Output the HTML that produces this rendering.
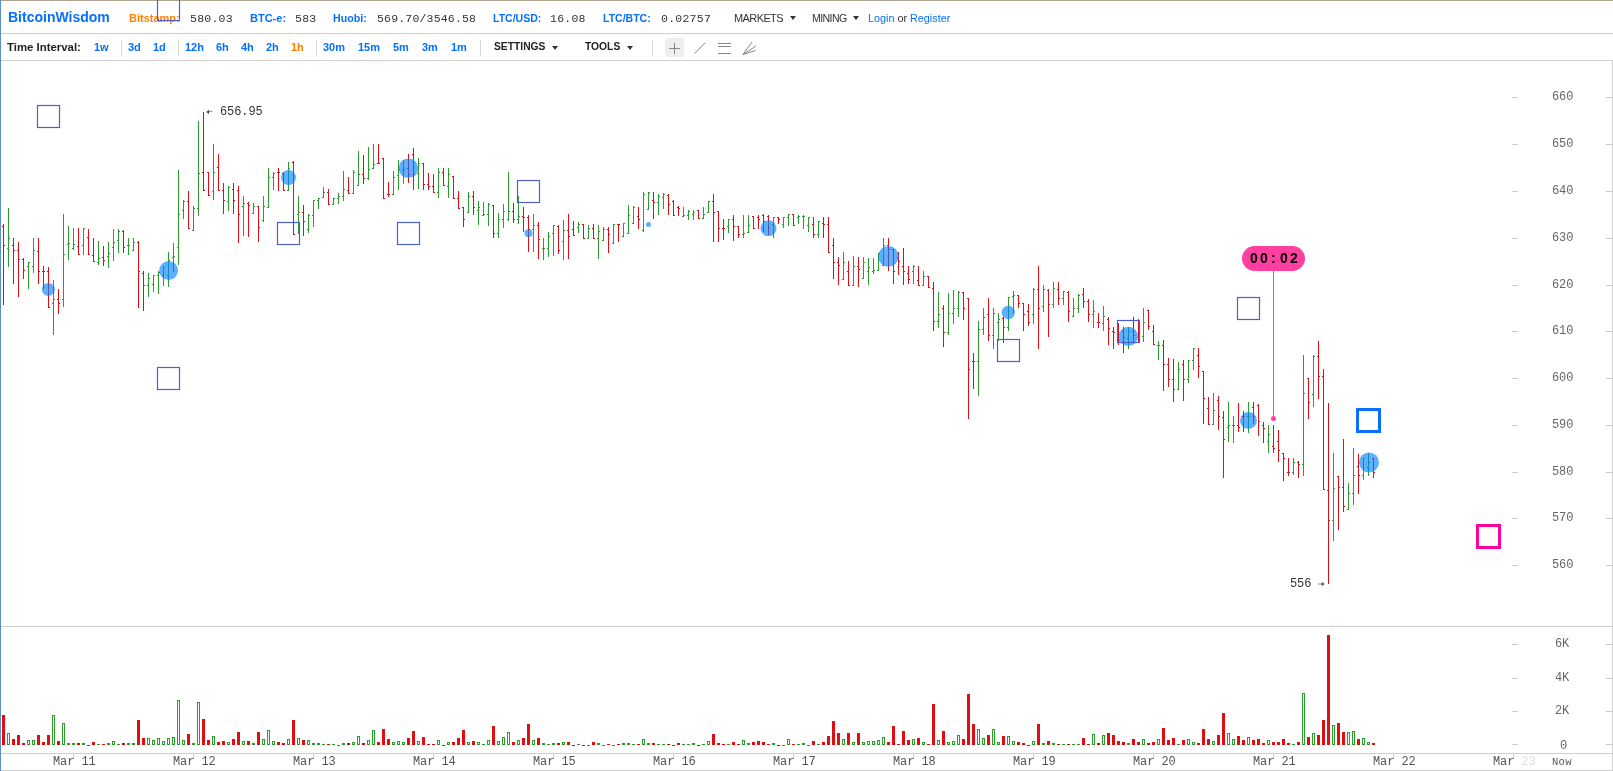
<!DOCTYPE html>
<html><head><meta charset="utf-8"><title>BitcoinWisdom</title>
<style>
html,body{margin:0;padding:0;background:#fff;}
body{width:1613px;height:771px;position:relative;overflow:hidden;font-family:"Liberation Sans",sans-serif;}
.t{position:absolute;white-space:nowrap;line-height:1;will-change:transform;}
.mono{font-family:"Liberation Mono",monospace;}
.hl{position:absolute;left:0;height:1px;background:#cfcfcf;}
svg{position:absolute;left:0;top:0;}
.tri{position:absolute;width:0;height:0;border-left:3.5px solid transparent;border-right:3.5px solid transparent;border-top:4px solid #333;}
.sep{position:absolute;width:1px;background:#d8d8d8;}
</style></head><body>

<div style="position:absolute;left:0;top:0;width:1613px;height:1px;background:#afa591"></div>
<div class="hl" style="top:33px;width:1613px"></div>
<div class="hl" style="top:60px;width:1613px"></div>
<div class="hl" style="top:626px;width:1612px"></div>
<div class="hl" style="top:753px;width:1612px"></div>
<div class="hl" style="top:770px;width:1613px"></div>
<div style="position:absolute;left:1612px;top:60px;width:1px;height:711px;background:#cfcfcf"></div>
<div style="position:absolute;left:0;top:0;width:1px;height:771px;background:#5a90c4"></div>
<div class="t" style="left:8px;top:10.15px;font-size:14px;color:#0570ff;font-weight:bold;">BitcoinWisdom</div>
<div class="t" style="left:129px;top:12.69px;font-size:11px;color:#ff8000;font-weight:bold;">Bitstamp:</div>
<div class="t mono" style="left:190px;top:13.19px;font-size:11.5px;color:#333;letter-spacing:-0.1px;letter-spacing:0.25px;">580.03</div>
<div class="t" style="left:249.5px;top:12.69px;font-size:11px;color:#0570ff;font-weight:bold;">BTC-e:</div>
<div class="t mono" style="left:295px;top:13.19px;font-size:11.5px;color:#333;letter-spacing:-0.1px;letter-spacing:0.25px;">583</div>
<div class="t" style="left:333.2px;top:12.69px;font-size:10.7px;color:#0570ff;font-weight:bold;">Huobi:</div>
<div class="t mono" style="left:377px;top:13.19px;font-size:11.5px;color:#333;letter-spacing:-0.1px;letter-spacing:0.18px;">569.70/3546.58</div>
<div class="t" style="left:492.5px;top:12.69px;font-size:10.5px;color:#0570ff;font-weight:bold;">LTC/USD:</div>
<div class="t mono" style="left:549.5px;top:13.19px;font-size:11.5px;color:#333;letter-spacing:-0.1px;letter-spacing:0.25px;">16.08</div>
<div class="t" style="left:602.5px;top:12.69px;font-size:10.5px;color:#0570ff;font-weight:bold;">LTC/BTC:</div>
<div class="t mono" style="left:661px;top:13.19px;font-size:11.5px;color:#333;letter-spacing:-0.1px;letter-spacing:0.25px;">0.02757</div>
<div class="t" style="left:733.8px;top:12.69px;font-size:11px;color:#333;letter-spacing:-0.6px;">MARKETS</div>
<div class="tri" style="left:789.7px;top:16px"></div>
<div class="t" style="left:811.8px;top:12.69px;font-size:10.6px;color:#333;letter-spacing:-0.6px;">MINING</div>
<div class="tri" style="left:852.5px;top:16px"></div>
<div class="t" style="left:867.8px;top:12.69px;font-size:10.8px;color:#333;"><span style="color:#0570ff">Login</span> or <span style="color:#0570ff">Register</span></div>
<div class="t" style="left:6.7px;top:41.69px;font-size:11.4px;color:#222;font-weight:bold;">Time Interval:</div>
<div class="t" style="left:93.5px;top:41.69px;font-size:11px;color:#0570ff;font-weight:bold;">1w</div>
<div class="t" style="left:127.5px;top:41.69px;font-size:11px;color:#0570ff;font-weight:bold;">3d</div>
<div class="t" style="left:152.5px;top:41.69px;font-size:11px;color:#0570ff;font-weight:bold;">1d</div>
<div class="t" style="left:184.5px;top:41.69px;font-size:11px;color:#0570ff;font-weight:bold;">12h</div>
<div class="t" style="left:215.5px;top:41.69px;font-size:11px;color:#0570ff;font-weight:bold;">6h</div>
<div class="t" style="left:240.5px;top:41.69px;font-size:11px;color:#0570ff;font-weight:bold;">4h</div>
<div class="t" style="left:265.5px;top:41.69px;font-size:11px;color:#0570ff;font-weight:bold;">2h</div>
<div class="t" style="left:290.5px;top:41.69px;font-size:11px;color:#ff8000;font-weight:bold;">1h</div>
<div class="t" style="left:322.5px;top:41.69px;font-size:11px;color:#0570ff;font-weight:bold;">30m</div>
<div class="t" style="left:357.5px;top:41.69px;font-size:11px;color:#0570ff;font-weight:bold;">15m</div>
<div class="t" style="left:392.5px;top:41.69px;font-size:11px;color:#0570ff;font-weight:bold;">5m</div>
<div class="t" style="left:421.5px;top:41.69px;font-size:11px;color:#0570ff;font-weight:bold;">3m</div>
<div class="t" style="left:450.5px;top:41.69px;font-size:11px;color:#0570ff;font-weight:bold;">1m</div>
<div class="sep" style="left:121px;top:40px;height:16px"></div>
<div class="sep" style="left:178px;top:40px;height:16px"></div>
<div class="sep" style="left:316px;top:40px;height:16px"></div>
<div class="sep" style="left:480px;top:40px;height:16px"></div>
<div class="sep" style="left:652px;top:40px;height:16px"></div>
<div class="t" style="left:493.5px;top:42.28px;font-size:10.3px;color:#222;font-weight:bold;">SETTINGS</div>
<div class="tri" style="left:552px;top:46px"></div>
<div class="t" style="left:584.5px;top:42.28px;font-size:10.3px;color:#222;font-weight:bold;">TOOLS</div>
<div class="tri" style="left:627px;top:46px"></div>
<div style="position:absolute;left:665px;top:38px;width:19px;height:19px;background:#eee;border-radius:3px"></div>
<svg width="1613" height="771" viewBox="0 0 1613 771">
<g stroke="#888" stroke-width="1" fill="none">
<path d="M669 48.5H680M674.5 43V54"/>
<path d="M694.5 53.5L705 43" />
<path d="M718 43.5H731M718 46.5H731M718 53.5H731"/>
<path d="M743 54.5L752 42M743 54.5L756 46M743 54.5L755.5 50.5"/>
</g>
<g shape-rendering="crispEdges">
<path fill="#e00d12" d="M3 224h1v81h-1z M2 226h1v1h-1z M4 245h1v1h-1z M13 238h1v46h-1z M12 245h1v1h-1z M14 250h1v1h-1z M18 242h1v55h-1z M17 250h1v1h-1z M19 259h1v1h-1z M23 258h1v21h-1z M22 259h1v1h-1z M24 270h1v1h-1z M38 238h1v46h-1z M37 251h1v1h-1z M39 271h1v1h-1z M43 266h1v23h-1z M42 271h1v1h-1z M44 271h1v1h-1z M48 267h1v41h-1z M47 271h1v1h-1z M49 307h1v1h-1z M58 289h1v25h-1z M57 299h1v1h-1z M59 303h1v1h-1z M78 228h1v27h-1z M77 246h1v1h-1z M79 254h1v1h-1z M88 229h1v26h-1z M87 237h1v1h-1z M89 254h1v1h-1z M93 238h1v24h-1z M92 255h1v1h-1z M94 261h1v1h-1z M103 246h1v20h-1z M102 257h1v1h-1z M104 260h1v1h-1z M123 230h1v23h-1z M122 231h1v1h-1z M124 247h1v1h-1z M138 241h1v67h-1z M137 242h1v1h-1z M139 271h1v1h-1z M143 271h1v40h-1z M142 273h1v1h-1z M144 285h1v1h-1z M188 191h1v38h-1z M187 201h1v1h-1z M189 228h1v1h-1z M203 112h1v79h-1z M202 172h1v1h-1z M204 190h1v1h-1z M208 172h1v24h-1z M207 172h1v1h-1z M209 195h1v1h-1z M218 154h1v37h-1z M217 167h1v1h-1z M219 190h1v1h-1z M223 183h1v31h-1z M222 190h1v1h-1z M224 200h1v1h-1z M233 183h1v31h-1z M232 189h1v1h-1z M234 200h1v1h-1z M238 186h1v57h-1z M237 190h1v1h-1z M239 214h1v1h-1z M248 202h1v35h-1z M247 203h1v1h-1z M249 205h1v1h-1z M258 206h1v36h-1z M257 206h1v1h-1z M259 227h1v1h-1z M278 168h1v23h-1z M277 172h1v1h-1z M279 172h1v1h-1z M283 172h1v19h-1z M282 173h1v1h-1z M284 190h1v1h-1z M293 161h1v74h-1z M292 162h1v1h-1z M294 234h1v1h-1z M303 205h1v31h-1z M302 212h1v1h-1z M304 221h1v1h-1z M328 189h1v16h-1z M327 192h1v1h-1z M329 204h1v1h-1z M348 177h1v17h-1z M347 190h1v1h-1z M349 193h1v1h-1z M363 155h1v29h-1z M362 174h1v1h-1z M364 178h1v1h-1z M378 144h1v20h-1z M377 163h1v1h-1z M379 163h1v1h-1z M383 158h1v41h-1z M382 158h1v1h-1z M384 198h1v1h-1z M388 182h1v15h-1z M387 194h1v1h-1z M389 194h1v1h-1z M408 154h1v29h-1z M407 168h1v1h-1z M409 174h1v1h-1z M413 148h1v42h-1z M412 154h1v1h-1z M414 174h1v1h-1z M423 163h1v27h-1z M422 163h1v1h-1z M424 184h1v1h-1z M428 173h1v17h-1z M427 184h1v1h-1z M429 186h1v1h-1z M433 174h1v19h-1z M432 186h1v1h-1z M434 192h1v1h-1z M443 168h1v18h-1z M442 172h1v1h-1z M444 185h1v1h-1z M453 176h1v23h-1z M452 176h1v1h-1z M454 198h1v1h-1z M458 191h1v18h-1z M457 198h1v1h-1z M459 208h1v1h-1z M463 207h1v20h-1z M462 207h1v1h-1z M464 219h1v1h-1z M473 191h1v24h-1z M472 196h1v1h-1z M474 207h1v1h-1z M493 205h1v33h-1z M492 205h1v1h-1z M494 233h1v1h-1z M513 203h1v20h-1z M512 211h1v1h-1z M514 219h1v1h-1z M523 207h1v25h-1z M522 216h1v1h-1z M524 217h1v1h-1z M528 215h1v37h-1z M527 217h1v1h-1z M529 229h1v1h-1z M538 222h1v37h-1z M537 225h1v1h-1z M539 239h1v1h-1z M558 225h1v29h-1z M557 226h1v1h-1z M559 250h1v1h-1z M568 214h1v45h-1z M567 230h1v1h-1z M569 236h1v1h-1z M573 221h1v15h-1z M572 229h1v1h-1z M574 235h1v1h-1z M583 224h1v15h-1z M582 224h1v1h-1z M584 238h1v1h-1z M593 224h1v15h-1z M592 228h1v1h-1z M594 238h1v1h-1z M608 227h1v26h-1z M607 229h1v1h-1z M609 234h1v1h-1z M618 224h1v18h-1z M617 224h1v1h-1z M619 224h1v1h-1z M638 207h1v22h-1z M637 216h1v1h-1z M639 219h1v1h-1z M653 192h1v27h-1z M652 200h1v1h-1z M654 202h1v1h-1z M668 194h1v21h-1z M667 195h1v1h-1z M669 204h1v1h-1z M673 200h1v16h-1z M672 201h1v1h-1z M674 215h1v1h-1z M678 206h1v10h-1z M677 207h1v1h-1z M679 208h1v1h-1z M698 210h1v9h-1z M697 210h1v1h-1z M699 218h1v1h-1z M713 194h1v48h-1z M712 201h1v1h-1z M714 212h1v1h-1z M718 211h1v31h-1z M717 211h1v1h-1z M719 228h1v1h-1z M723 219h1v21h-1z M722 228h1v1h-1z M724 228h1v1h-1z M733 215h1v26h-1z M732 219h1v1h-1z M734 226h1v1h-1z M738 226h1v12h-1z M737 226h1v1h-1z M739 234h1v1h-1z M753 216h1v13h-1z M752 216h1v1h-1z M754 228h1v1h-1z M758 215h1v14h-1z M757 217h1v1h-1z M759 219h1v1h-1z M763 214h1v18h-1z M762 215h1v1h-1z M764 221h1v1h-1z M768 215h1v20h-1z M767 216h1v1h-1z M769 227h1v1h-1z M778 217h1v7h-1z M777 217h1v1h-1z M779 219h1v1h-1z M793 214h1v12h-1z M792 214h1v1h-1z M794 225h1v1h-1z M813 217h1v21h-1z M812 224h1v1h-1z M814 234h1v1h-1z M823 217h1v21h-1z M822 223h1v1h-1z M824 224h1v1h-1z M828 217h1v36h-1z M827 224h1v1h-1z M829 252h1v1h-1z M833 238h1v41h-1z M832 245h1v1h-1z M834 262h1v1h-1z M838 257h1v28h-1z M837 262h1v1h-1z M839 265h1v1h-1z M848 261h1v25h-1z M847 271h1v1h-1z M849 285h1v1h-1z M858 257h1v30h-1z M857 266h1v1h-1z M859 269h1v1h-1z M888 238h1v33h-1z M887 245h1v1h-1z M889 249h1v1h-1z M893 249h1v35h-1z M892 249h1v1h-1z M894 271h1v1h-1z M898 252h1v23h-1z M897 257h1v1h-1z M899 261h1v1h-1z M903 248h1v37h-1z M902 266h1v1h-1z M904 271h1v1h-1z M908 266h1v18h-1z M907 273h1v1h-1z M909 279h1v1h-1z M918 266h1v20h-1z M917 280h1v1h-1z M919 285h1v1h-1z M928 276h1v12h-1z M927 276h1v1h-1z M929 287h1v1h-1z M933 282h1v49h-1z M932 288h1v1h-1z M934 321h1v1h-1z M943 305h1v42h-1z M942 308h1v1h-1z M944 332h1v1h-1z M963 292h1v28h-1z M962 292h1v1h-1z M964 308h1v1h-1z M968 298h1v121h-1z M967 298h1v1h-1z M969 369h1v1h-1z M973 353h1v36h-1z M972 361h1v1h-1z M974 361h1v1h-1z M988 298h1v43h-1z M987 314h1v1h-1z M989 335h1v1h-1z M1003 317h1v26h-1z M1002 318h1v1h-1z M1004 327h1v1h-1z M1018 295h1v13h-1z M1017 295h1v1h-1z M1019 303h1v1h-1z M1023 303h1v28h-1z M1022 303h1v1h-1z M1024 314h1v1h-1z M1028 304h1v22h-1z M1027 311h1v1h-1z M1029 322h1v1h-1z M1038 266h1v83h-1z M1037 289h1v1h-1z M1039 308h1v1h-1z M1048 289h1v48h-1z M1047 290h1v1h-1z M1049 304h1v1h-1z M1058 282h1v23h-1z M1057 289h1v1h-1z M1059 298h1v1h-1z M1068 291h1v31h-1z M1067 292h1v1h-1z M1069 311h1v1h-1z M1083 288h1v20h-1z M1082 294h1v1h-1z M1084 301h1v1h-1z M1088 299h1v23h-1z M1087 301h1v1h-1z M1089 314h1v1h-1z M1098 313h1v15h-1z M1097 322h1v1h-1z M1099 322h1v1h-1z M1108 317h1v28h-1z M1107 319h1v1h-1z M1109 328h1v1h-1z M1113 327h1v22h-1z M1112 331h1v1h-1z M1114 332h1v1h-1z M1118 323h1v22h-1z M1117 323h1v1h-1z M1119 340h1v1h-1z M1123 327h1v26h-1z M1122 331h1v1h-1z M1124 337h1v1h-1z M1133 317h1v25h-1z M1132 331h1v1h-1z M1134 335h1v1h-1z M1138 319h1v23h-1z M1137 320h1v1h-1z M1139 327h1v1h-1z M1148 310h1v20h-1z M1147 310h1v1h-1z M1149 326h1v1h-1z M1153 325h1v20h-1z M1152 331h1v1h-1z M1154 344h1v1h-1z M1163 340h1v51h-1z M1162 345h1v1h-1z M1164 364h1v1h-1z M1168 358h1v29h-1z M1167 364h1v1h-1z M1169 379h1v1h-1z M1173 359h1v43h-1z M1172 379h1v1h-1z M1174 389h1v1h-1z M1183 360h1v41h-1z M1182 364h1v1h-1z M1184 379h1v1h-1z M1198 348h1v30h-1z M1197 355h1v1h-1z M1199 366h1v1h-1z M1203 371h1v53h-1z M1202 371h1v1h-1z M1204 398h1v1h-1z M1208 397h1v28h-1z M1207 408h1v1h-1z M1209 424h1v1h-1z M1218 396h1v34h-1z M1217 400h1v1h-1z M1219 416h1v1h-1z M1223 411h1v67h-1z M1222 417h1v1h-1z M1224 439h1v1h-1z M1238 403h1v29h-1z M1237 425h1v1h-1z M1239 427h1v1h-1z M1243 411h1v21h-1z M1242 416h1v1h-1z M1244 416h1v1h-1z M1253 402h1v22h-1z M1252 407h1v1h-1z M1254 416h1v1h-1z M1258 404h1v32h-1z M1257 405h1v1h-1z M1259 421h1v1h-1z M1263 422h1v21h-1z M1262 425h1v1h-1z M1264 428h1v1h-1z M1273 425h1v28h-1z M1272 446h1v1h-1z M1274 448h1v1h-1z M1278 430h1v32h-1z M1277 441h1v1h-1z M1279 450h1v1h-1z M1283 453h1v28h-1z M1282 453h1v1h-1z M1284 458h1v1h-1z M1288 458h1v18h-1z M1287 472h1v1h-1z M1289 472h1v1h-1z M1298 461h1v17h-1z M1297 462h1v1h-1z M1299 464h1v1h-1z M1308 378h1v41h-1z M1307 378h1v1h-1z M1309 402h1v1h-1z M1318 341h1v58h-1z M1317 356h1v1h-1z M1319 376h1v1h-1z M1323 369h1v121h-1z M1322 376h1v1h-1z M1324 489h1v1h-1z M1328 403h1v181h-1z M1327 490h1v1h-1z M1329 520h1v1h-1z M1338 476h1v54h-1z M1337 476h1v1h-1z M1339 487h1v1h-1z M1343 439h1v73h-1z M1342 487h1v1h-1z M1344 506h1v1h-1z M1358 454h1v40h-1z M1357 466h1v1h-1z M1359 475h1v1h-1z M1373 458h1v20h-1z M1372 458h1v1h-1z M1374 472h1v1h-1z"/>
<path fill="#2a9d2a" d="M8 208h1v59h-1z M7 248h1v1h-1z M9 238h1v1h-1z M28 262h1v27h-1z M27 266h1v1h-1z M29 262h1v1h-1z M33 238h1v35h-1z M32 266h1v1h-1z M34 250h1v1h-1z M53 280h1v55h-1z M52 303h1v1h-1z M54 299h1v1h-1z M63 214h1v93h-1z M62 299h1v1h-1z M64 254h1v1h-1z M68 226h1v34h-1z M67 244h1v1h-1z M69 243h1v1h-1z M73 228h1v22h-1z M72 248h1v1h-1z M74 244h1v1h-1z M83 228h1v27h-1z M82 245h1v1h-1z M84 228h1v1h-1z M98 241h1v24h-1z M97 262h1v1h-1z M99 258h1v1h-1z M108 242h1v26h-1z M107 256h1v1h-1z M109 253h1v1h-1z M113 229h1v32h-1z M112 247h1v1h-1z M114 242h1v1h-1z M118 229h1v24h-1z M117 240h1v1h-1z M119 231h1v1h-1z M128 238h1v17h-1z M127 245h1v1h-1z M129 245h1v1h-1z M133 238h1v13h-1z M132 250h1v1h-1z M134 242h1v1h-1z M148 273h1v24h-1z M147 285h1v1h-1z M149 278h1v1h-1z M153 275h1v17h-1z M152 284h1v1h-1z M154 275h1v1h-1z M158 271h1v23h-1z M157 275h1v1h-1z M159 272h1v1h-1z M163 266h1v20h-1z M162 275h1v1h-1z M164 267h1v1h-1z M168 252h1v35h-1z M167 275h1v1h-1z M169 260h1v1h-1z M173 243h1v29h-1z M172 257h1v1h-1z M174 256h1v1h-1z M178 170h1v95h-1z M177 247h1v1h-1z M179 214h1v1h-1z M183 200h1v19h-1z M182 210h1v1h-1z M184 201h1v1h-1z M193 206h1v25h-1z M192 230h1v1h-1z M194 208h1v1h-1z M198 121h1v95h-1z M197 208h1v1h-1z M199 173h1v1h-1z M213 144h1v56h-1z M212 191h1v1h-1z M214 172h1v1h-1z M228 186h1v25h-1z M227 201h1v1h-1z M229 187h1v1h-1z M243 196h1v40h-1z M242 206h1v1h-1z M244 203h1v1h-1z M253 203h1v11h-1z M252 213h1v1h-1z M254 206h1v1h-1z M263 196h1v26h-1z M262 220h1v1h-1z M264 206h1v1h-1z M268 168h1v40h-1z M267 207h1v1h-1z M269 177h1v1h-1z M273 172h1v18h-1z M272 177h1v1h-1z M274 173h1v1h-1z M288 162h1v29h-1z M287 190h1v1h-1z M289 168h1v1h-1z M298 196h1v38h-1z M297 214h1v1h-1z M299 212h1v1h-1z M308 214h1v19h-1z M307 229h1v1h-1z M309 215h1v1h-1z M313 200h1v27h-1z M312 215h1v1h-1z M314 200h1v1h-1z M318 198h1v11h-1z M317 200h1v1h-1z M319 198h1v1h-1z M323 187h1v11h-1z M322 197h1v1h-1z M324 192h1v1h-1z M333 198h1v7h-1z M332 204h1v1h-1z M334 198h1v1h-1z M338 193h1v11h-1z M337 198h1v1h-1z M339 196h1v1h-1z M343 171h1v30h-1z M342 196h1v1h-1z M344 189h1v1h-1z M353 170h1v24h-1z M352 193h1v1h-1z M354 172h1v1h-1z M358 151h1v35h-1z M357 185h1v1h-1z M359 174h1v1h-1z M368 147h1v33h-1z M367 178h1v1h-1z M369 169h1v1h-1z M373 144h1v25h-1z M372 168h1v1h-1z M374 164h1v1h-1z M393 171h1v24h-1z M392 194h1v1h-1z M394 177h1v1h-1z M398 160h1v30h-1z M397 175h1v1h-1z M399 169h1v1h-1z M403 160h1v24h-1z M402 169h1v1h-1z M404 169h1v1h-1z M418 158h1v31h-1z M417 173h1v1h-1z M419 163h1v1h-1z M438 168h1v30h-1z M437 192h1v1h-1z M439 172h1v1h-1z M448 168h1v30h-1z M447 186h1v1h-1z M449 174h1v1h-1z M468 192h1v21h-1z M467 212h1v1h-1z M469 196h1v1h-1z M478 201h1v24h-1z M477 210h1v1h-1z M479 207h1v1h-1z M483 202h1v14h-1z M482 215h1v1h-1z M484 214h1v1h-1z M488 203h1v23h-1z M487 214h1v1h-1z M489 204h1v1h-1z M498 213h1v25h-1z M497 233h1v1h-1z M499 219h1v1h-1z M503 204h1v24h-1z M502 219h1v1h-1z M504 211h1v1h-1z M508 172h1v49h-1z M507 219h1v1h-1z M509 211h1v1h-1z M518 196h1v28h-1z M517 219h1v1h-1z M519 216h1v1h-1z M533 214h1v38h-1z M532 229h1v1h-1z M534 225h1v1h-1z M543 238h1v22h-1z M542 248h1v1h-1z M544 248h1v1h-1z M548 232h1v25h-1z M547 248h1v1h-1z M549 236h1v1h-1z M553 225h1v31h-1z M552 233h1v1h-1z M554 225h1v1h-1z M563 220h1v40h-1z M562 241h1v1h-1z M564 230h1v1h-1z M578 222h1v11h-1z M577 227h1v1h-1z M579 224h1v1h-1z M588 225h1v14h-1z M587 238h1v1h-1z M589 228h1v1h-1z M598 225h1v34h-1z M597 238h1v1h-1z M599 231h1v1h-1z M603 227h1v14h-1z M602 240h1v1h-1z M604 229h1v1h-1z M613 224h1v20h-1z M612 243h1v1h-1z M614 224h1v1h-1z M623 223h1v14h-1z M622 236h1v1h-1z M624 223h1v1h-1z M628 205h1v29h-1z M627 233h1v1h-1z M629 215h1v1h-1z M633 206h1v18h-1z M632 223h1v1h-1z M634 207h1v1h-1z M643 192h1v40h-1z M642 230h1v1h-1z M644 194h1v1h-1z M648 192h1v18h-1z M647 209h1v1h-1z M649 192h1v1h-1z M658 194h1v21h-1z M657 202h1v1h-1z M659 196h1v1h-1z M663 193h1v16h-1z M662 197h1v1h-1z M664 194h1v1h-1z M683 207h1v10h-1z M682 216h1v1h-1z M684 215h1v1h-1z M688 210h1v10h-1z M687 215h1v1h-1z M689 211h1v1h-1z M693 210h1v10h-1z M692 214h1v1h-1z M694 212h1v1h-1z M703 207h1v12h-1z M702 218h1v1h-1z M704 214h1v1h-1z M708 201h1v12h-1z M707 212h1v1h-1z M709 201h1v1h-1z M728 219h1v14h-1z M727 226h1v1h-1z M729 219h1v1h-1z M743 215h1v23h-1z M742 234h1v1h-1z M744 233h1v1h-1z M748 215h1v18h-1z M747 232h1v1h-1z M749 225h1v1h-1z M773 217h1v21h-1z M772 224h1v1h-1z M774 217h1v1h-1z M783 217h1v11h-1z M782 224h1v1h-1z M784 217h1v1h-1z M788 214h1v12h-1z M787 217h1v1h-1z M789 214h1v1h-1z M798 215h1v9h-1z M797 217h1v1h-1z M799 216h1v1h-1z M803 215h1v14h-1z M802 216h1v1h-1z M804 216h1v1h-1z M808 217h1v15h-1z M807 225h1v1h-1z M809 217h1v1h-1z M818 221h1v17h-1z M817 234h1v1h-1z M819 221h1v1h-1z M843 252h1v28h-1z M842 279h1v1h-1z M844 262h1v1h-1z M853 256h1v30h-1z M852 285h1v1h-1z M854 266h1v1h-1z M863 257h1v22h-1z M862 278h1v1h-1z M864 262h1v1h-1z M868 258h1v27h-1z M867 271h1v1h-1z M869 267h1v1h-1z M873 258h1v16h-1z M872 271h1v1h-1z M874 270h1v1h-1z M878 253h1v18h-1z M877 270h1v1h-1z M879 253h1v1h-1z M883 238h1v28h-1z M882 265h1v1h-1z M884 245h1v1h-1z M913 265h1v19h-1z M912 271h1v1h-1z M914 266h1v1h-1z M923 271h1v15h-1z M922 285h1v1h-1z M924 276h1v1h-1z M938 292h1v36h-1z M937 321h1v1h-1z M939 314h1v1h-1z M948 293h1v42h-1z M947 332h1v1h-1z M949 313h1v1h-1z M953 290h1v34h-1z M952 313h1v1h-1z M954 308h1v1h-1z M958 291h1v26h-1z M957 308h1v1h-1z M959 292h1v1h-1z M978 321h1v75h-1z M977 361h1v1h-1z M979 329h1v1h-1z M983 308h1v27h-1z M982 329h1v1h-1z M984 317h1v1h-1z M993 308h1v41h-1z M992 335h1v1h-1z M994 313h1v1h-1z M998 313h1v28h-1z M997 322h1v1h-1z M999 319h1v1h-1z M1008 297h1v34h-1z M1007 327h1v1h-1z M1009 297h1v1h-1z M1013 291h1v22h-1z M1012 296h1v1h-1z M1014 295h1v1h-1z M1033 288h1v36h-1z M1032 314h1v1h-1z M1034 289h1v1h-1z M1043 285h1v27h-1z M1042 306h1v1h-1z M1044 289h1v1h-1z M1053 282h1v26h-1z M1052 304h1v1h-1z M1054 288h1v1h-1z M1063 291h1v14h-1z M1062 298h1v1h-1z M1064 291h1v1h-1z M1073 298h1v19h-1z M1072 316h1v1h-1z M1074 308h1v1h-1z M1078 294h1v19h-1z M1077 308h1v1h-1z M1079 295h1v1h-1z M1093 300h1v28h-1z M1092 314h1v1h-1z M1094 311h1v1h-1z M1103 306h1v25h-1z M1102 323h1v1h-1z M1104 316h1v1h-1z M1128 327h1v22h-1z M1127 338h1v1h-1z M1129 331h1v1h-1z M1143 308h1v34h-1z M1142 336h1v1h-1z M1144 322h1v1h-1z M1158 341h1v19h-1z M1157 345h1v1h-1z M1159 345h1v1h-1z M1178 362h1v28h-1z M1177 389h1v1h-1z M1179 369h1v1h-1z M1188 360h1v23h-1z M1187 379h1v1h-1z M1189 360h1v1h-1z M1193 348h1v22h-1z M1192 360h1v1h-1z M1194 348h1v1h-1z M1213 393h1v32h-1z M1212 424h1v1h-1z M1214 410h1v1h-1z M1228 402h1v40h-1z M1227 427h1v1h-1z M1229 425h1v1h-1z M1233 416h1v27h-1z M1232 425h1v1h-1z M1234 425h1v1h-1z M1248 402h1v31h-1z M1247 416h1v1h-1z M1249 416h1v1h-1z M1268 425h1v28h-1z M1267 441h1v1h-1z M1269 434h1v1h-1z M1293 458h1v17h-1z M1292 472h1v1h-1z M1294 462h1v1h-1z M1303 355h1v121h-1z M1302 464h1v1h-1z M1304 393h1v1h-1z M1313 355h1v52h-1z M1312 394h1v1h-1z M1314 356h1v1h-1z M1333 453h1v88h-1z M1332 520h1v1h-1z M1334 488h1v1h-1z M1348 483h1v27h-1z M1347 509h1v1h-1z M1349 493h1v1h-1z M1353 448h1v57h-1z M1352 493h1v1h-1z M1354 475h1v1h-1z M1363 458h1v22h-1z M1362 475h1v1h-1z M1364 458h1v1h-1z M1368 453h1v23h-1z M1367 467h1v1h-1z M1369 462h1v1h-1z"/>
<path fill="#e00d12" d="M2 715h3v30h-3z M12 739h3v6h-3z M17 735h3v10h-3z M22 743h3v2h-3z M37 735h3v10h-3z M42 742h3v3h-3z M47 735h3v10h-3z M57 741h3v4h-3z M77 743h3v2h-3z M87 745h3v1h-3z M92 742h3v3h-3z M102 744h3v1h-3z M122 743h3v2h-3z M137 720h3v25h-3z M142 738h3v7h-3z M187 734h3v11h-3z M202 719h3v26h-3z M207 740h3v5h-3z M217 742h3v3h-3z M222 741h3v4h-3z M232 739h3v6h-3z M237 732h3v13h-3z M247 741h3v4h-3z M257 732h3v13h-3z M277 742h3v3h-3z M282 743h3v2h-3z M292 720h3v25h-3z M302 740h3v5h-3z M327 744h3v1h-3z M347 743h3v2h-3z M362 743h3v2h-3z M377 742h3v3h-3z M382 729h3v16h-3z M387 739h3v6h-3z M407 738h3v7h-3z M412 731h3v14h-3z M422 737h3v8h-3z M427 744h3v1h-3z M432 744h3v1h-3z M442 745h3v1h-3z M452 742h3v3h-3z M457 738h3v7h-3z M462 730h3v15h-3z M472 741h3v4h-3z M492 726h3v19h-3z M512 742h3v3h-3z M522 738h3v7h-3z M527 724h3v21h-3z M537 738h3v7h-3z M557 743h3v2h-3z M567 742h3v3h-3z M572 745h3v1h-3z M582 745h3v1h-3z M592 742h3v3h-3z M607 744h3v1h-3z M617 744h3v1h-3z M637 744h3v1h-3z M652 743h3v2h-3z M667 744h3v1h-3z M672 745h3v1h-3z M677 743h3v2h-3z M697 745h3v1h-3z M712 734h3v11h-3z M717 743h3v2h-3z M722 744h3v1h-3z M732 742h3v3h-3z M737 744h3v1h-3z M752 742h3v3h-3z M757 741h3v4h-3z M762 742h3v3h-3z M767 744h3v1h-3z M777 745h3v1h-3z M792 744h3v1h-3z M812 741h3v4h-3z M822 742h3v3h-3z M827 736h3v9h-3z M832 721h3v24h-3z M837 733h3v12h-3z M847 733h3v12h-3z M857 733h3v12h-3z M887 742h3v3h-3z M892 726h3v19h-3z M897 744h3v1h-3z M902 731h3v14h-3z M907 740h3v5h-3z M917 738h3v7h-3z M927 744h3v1h-3z M932 704h3v41h-3z M942 731h3v14h-3z M962 739h3v6h-3z M967 694h3v51h-3z M972 724h3v21h-3z M987 735h3v10h-3z M1002 736h3v9h-3z M1017 742h3v3h-3z M1022 743h3v2h-3z M1027 745h3v1h-3z M1037 724h3v21h-3z M1047 741h3v4h-3z M1057 744h3v1h-3z M1067 744h3v1h-3z M1082 738h3v7h-3z M1087 744h3v1h-3z M1097 743h3v2h-3z M1107 733h3v12h-3z M1112 735h3v10h-3z M1117 741h3v4h-3z M1122 742h3v3h-3z M1132 739h3v6h-3z M1137 742h3v3h-3z M1147 743h3v2h-3z M1152 742h3v3h-3z M1162 728h3v17h-3z M1167 740h3v5h-3z M1172 738h3v7h-3z M1182 740h3v5h-3z M1197 743h3v2h-3z M1202 729h3v16h-3z M1207 739h3v6h-3z M1217 735h3v10h-3z M1222 713h3v32h-3z M1237 736h3v9h-3z M1242 740h3v5h-3z M1252 740h3v5h-3z M1257 739h3v6h-3z M1262 743h3v2h-3z M1272 742h3v3h-3z M1277 742h3v3h-3z M1282 739h3v6h-3z M1287 743h3v2h-3z M1297 742h3v3h-3z M1307 737h3v8h-3z M1317 735h3v10h-3z M1322 720h3v25h-3z M1327 635h3v110h-3z M1337 723h3v22h-3z M1342 732h3v13h-3z M1357 739h3v6h-3z M1372 743h3v2h-3z"/>
<path fill="#2a9d2a" d="M7 733h3v12h-3z M8 734v10h1v-10z M27 740h3v5h-3z M28 741v3h1v-3z M32 740h3v5h-3z M33 741v3h1v-3z M52 715h3v30h-3z M53 716v28h1v-28z M62 723h3v22h-3z M63 724v20h1v-20z M67 743h3v2h-3z M72 743h3v2h-3z M82 743h3v2h-3z M97 744h3v1h-3z M107 743h3v2h-3z M112 741h3v4h-3z M113 742v2h1v-2z M117 744h3v1h-3z M127 743h3v2h-3z M132 743h3v2h-3z M147 738h3v7h-3z M148 739v5h1v-5z M152 740h3v5h-3z M153 741v3h1v-3z M157 738h3v7h-3z M158 739v5h1v-5z M162 741h3v4h-3z M163 742v2h1v-2z M167 738h3v7h-3z M168 739v5h1v-5z M172 737h3v8h-3z M173 738v6h1v-6z M177 700h3v45h-3z M178 701v43h1v-43z M182 740h3v5h-3z M183 741v3h1v-3z M192 743h3v2h-3z M197 702h3v43h-3z M198 703v41h1v-41z M212 736h3v9h-3z M213 737v7h1v-7z M227 742h3v3h-3z M228 743v1h1v-1z M242 741h3v4h-3z M243 742v2h1v-2z M252 743h3v2h-3z M262 739h3v6h-3z M263 740v4h1v-4z M267 730h3v15h-3z M268 731v13h1v-13z M272 741h3v4h-3z M273 742v2h1v-2z M287 739h3v6h-3z M288 740v4h1v-4z M297 738h3v7h-3z M298 739v5h1v-5z M307 740h3v5h-3z M308 741v3h1v-3z M312 743h3v2h-3z M317 743h3v2h-3z M322 744h3v1h-3z M332 744h3v1h-3z M337 745h3v1h-3z M342 743h3v2h-3z M352 742h3v3h-3z M353 743v1h1v-1z M357 736h3v9h-3z M358 737v7h1v-7z M367 740h3v5h-3z M368 741v3h1v-3z M372 730h3v15h-3z M373 731v13h1v-13z M392 742h3v3h-3z M393 743v1h1v-1z M397 741h3v4h-3z M398 742v2h1v-2z M402 742h3v3h-3z M403 743v1h1v-1z M417 741h3v4h-3z M418 742v2h1v-2z M437 740h3v5h-3z M438 741v3h1v-3z M447 742h3v3h-3z M448 743v1h1v-1z M467 742h3v3h-3z M468 743v1h1v-1z M477 742h3v3h-3z M478 743v1h1v-1z M482 744h3v1h-3z M487 740h3v5h-3z M488 741v3h1v-3z M497 741h3v4h-3z M498 742v2h1v-2z M502 737h3v8h-3z M503 738v6h1v-6z M507 732h3v13h-3z M508 733v11h1v-11z M517 740h3v5h-3z M518 741v3h1v-3z M532 740h3v5h-3z M533 741v3h1v-3z M542 743h3v2h-3z M547 744h3v1h-3z M552 743h3v2h-3z M562 742h3v3h-3z M563 743v1h1v-1z M577 744h3v1h-3z M587 745h3v1h-3z M597 743h3v2h-3z M602 745h3v1h-3z M612 745h3v1h-3z M622 743h3v2h-3z M627 743h3v2h-3z M632 744h3v1h-3z M642 739h3v6h-3z M643 740v4h1v-4z M647 743h3v2h-3z M657 744h3v1h-3z M662 744h3v1h-3z M682 744h3v1h-3z M687 744h3v1h-3z M692 743h3v2h-3z M702 744h3v1h-3z M707 741h3v4h-3z M708 742v2h1v-2z M727 744h3v1h-3z M742 740h3v5h-3z M743 741v3h1v-3z M747 743h3v2h-3z M772 743h3v2h-3z M782 745h3v1h-3z M787 739h3v6h-3z M788 740v4h1v-4z M797 744h3v1h-3z M802 743h3v2h-3z M807 745h3v1h-3z M817 744h3v1h-3z M842 739h3v6h-3z M843 740v4h1v-4z M852 742h3v3h-3z M853 743v1h1v-1z M862 742h3v3h-3z M863 743v1h1v-1z M867 741h3v4h-3z M868 742v2h1v-2z M872 741h3v4h-3z M873 742v2h1v-2z M877 740h3v5h-3z M878 741v3h1v-3z M882 737h3v8h-3z M883 738v6h1v-6z M912 739h3v6h-3z M913 740v4h1v-4z M922 742h3v3h-3z M923 743v1h1v-1z M937 740h3v5h-3z M938 741v3h1v-3z M947 742h3v3h-3z M948 743v1h1v-1z M952 741h3v4h-3z M953 742v2h1v-2z M957 735h3v10h-3z M958 736v8h1v-8z M977 729h3v16h-3z M978 730v14h1v-14z M982 738h3v7h-3z M983 739v5h1v-5z M992 729h3v16h-3z M993 730v14h1v-14z M997 742h3v3h-3z M998 743v1h1v-1z M1007 736h3v9h-3z M1008 737v7h1v-7z M1012 741h3v4h-3z M1013 742v2h1v-2z M1032 741h3v4h-3z M1033 742v2h1v-2z M1042 743h3v2h-3z M1052 743h3v2h-3z M1062 744h3v1h-3z M1072 744h3v1h-3z M1077 744h3v1h-3z M1092 734h3v11h-3z M1093 735v9h1v-9z M1102 735h3v10h-3z M1103 736v8h1v-8z M1127 743h3v2h-3z M1142 739h3v6h-3z M1143 740v4h1v-4z M1157 739h3v6h-3z M1158 740v4h1v-4z M1177 744h3v1h-3z M1187 739h3v6h-3z M1188 740v4h1v-4z M1192 742h3v3h-3z M1193 743v1h1v-1z M1212 741h3v4h-3z M1213 742v2h1v-2z M1227 733h3v12h-3z M1228 734v10h1v-10z M1232 739h3v6h-3z M1233 740v4h1v-4z M1247 737h3v8h-3z M1248 738v6h1v-6z M1267 740h3v5h-3z M1268 741v3h1v-3z M1292 744h3v1h-3z M1302 693h3v52h-3z M1303 694v50h1v-50z M1312 733h3v12h-3z M1313 734v10h1v-10z M1332 725h3v20h-3z M1333 726v18h1v-18z M1347 732h3v13h-3z M1348 733v11h1v-11z M1352 731h3v14h-3z M1353 732v12h1v-12z M1362 738h3v7h-3z M1363 739v5h1v-5z M1367 742h3v3h-3z M1368 743v1h1v-1z"/>
<rect x="1512" y="97" width="6" height="1" fill="#ccc"/><rect x="1606" y="97" width="6" height="1" fill="#ccc"/>
<rect x="1512" y="144" width="6" height="1" fill="#ccc"/><rect x="1606" y="144" width="6" height="1" fill="#ccc"/>
<rect x="1512" y="191" width="6" height="1" fill="#ccc"/><rect x="1606" y="191" width="6" height="1" fill="#ccc"/>
<rect x="1512" y="238" width="6" height="1" fill="#ccc"/><rect x="1606" y="238" width="6" height="1" fill="#ccc"/>
<rect x="1512" y="285" width="6" height="1" fill="#ccc"/><rect x="1606" y="285" width="6" height="1" fill="#ccc"/>
<rect x="1512" y="331" width="6" height="1" fill="#ccc"/><rect x="1606" y="331" width="6" height="1" fill="#ccc"/>
<rect x="1512" y="378" width="6" height="1" fill="#ccc"/><rect x="1606" y="378" width="6" height="1" fill="#ccc"/>
<rect x="1512" y="425" width="6" height="1" fill="#ccc"/><rect x="1606" y="425" width="6" height="1" fill="#ccc"/>
<rect x="1512" y="472" width="6" height="1" fill="#ccc"/><rect x="1606" y="472" width="6" height="1" fill="#ccc"/>
<rect x="1512" y="518" width="6" height="1" fill="#ccc"/><rect x="1606" y="518" width="6" height="1" fill="#ccc"/>
<rect x="1512" y="565" width="6" height="1" fill="#ccc"/><rect x="1606" y="565" width="6" height="1" fill="#ccc"/>
<rect x="1512" y="644" width="6" height="1" fill="#ccc"/><rect x="1606" y="644" width="6" height="1" fill="#ccc"/>
<rect x="1512" y="678" width="6" height="1" fill="#ccc"/><rect x="1606" y="678" width="6" height="1" fill="#ccc"/>
<rect x="1512" y="711" width="6" height="1" fill="#ccc"/><rect x="1606" y="711" width="6" height="1" fill="#ccc"/>
<rect x="1512" y="744" width="6" height="1" fill="#ccc"/><rect x="1606" y="744" width="6" height="1" fill="#ccc"/>
<rect x="73" y="754" width="1" height="4" fill="#ccc"/>
<rect x="193" y="754" width="1" height="4" fill="#ccc"/>
<rect x="313" y="754" width="1" height="4" fill="#ccc"/>
<rect x="433" y="754" width="1" height="4" fill="#ccc"/>
<rect x="553" y="754" width="1" height="4" fill="#ccc"/>
<rect x="673" y="754" width="1" height="4" fill="#ccc"/>
<rect x="793" y="754" width="1" height="4" fill="#ccc"/>
<rect x="913" y="754" width="1" height="4" fill="#ccc"/>
<rect x="1033" y="754" width="1" height="4" fill="#ccc"/>
<rect x="1153" y="754" width="1" height="4" fill="#ccc"/>
<rect x="1273" y="754" width="1" height="4" fill="#ccc"/>
<rect x="1393" y="754" width="1" height="4" fill="#ccc"/>
<rect x="1513" y="754" width="1" height="4" fill="#ccc"/>
</g>
<g fill="rgba(0,128,255,0.63)">
<circle cx="48.4" cy="289.4" r="6.5"/>
<circle cx="168.6" cy="270.5" r="9.4"/>
<circle cx="288.5" cy="177.5" r="7.5"/>
<circle cx="408.4" cy="168.3" r="9.8"/>
<circle cx="528.5" cy="233.3" r="4"/>
<circle cx="648.5" cy="224.4" r="2.5"/>
<circle cx="768.5" cy="228.3" r="8"/>
<circle cx="888.4" cy="256.4" r="10.3"/>
<circle cx="1008.3" cy="312.5" r="6.7"/>
<circle cx="1128.4" cy="336.4" r="9.7"/>
<circle cx="1248.5" cy="420.4" r="8.5"/>
<circle cx="1369" cy="462.4" r="10"/>
</g>
<g fill="none" stroke="#4d5fcc" stroke-width="1.2">
<rect x="37.5" y="105.5" width="22" height="22"/>
<rect x="157.5" y="367.5" width="22" height="22"/>
<rect x="157.5" y="-1.5" width="22" height="22"/>
<rect x="277.5" y="222.5" width="22" height="22"/>
<rect x="397.5" y="222.5" width="22" height="22"/>
<rect x="517.5" y="180.5" width="22" height="22"/>
<rect x="997.5" y="339.5" width="22" height="22"/>
<rect x="1117.5" y="320.5" width="22" height="22"/>
<rect x="1237.5" y="297.5" width="22" height="22"/>
</g>
<rect x="1357.5" y="409.5" width="22" height="22" fill="none" stroke="#0a6eff" stroke-width="3"/>
<rect x="1477.5" y="525.5" width="22" height="22" fill="none" stroke="#ff00a0" stroke-width="3"/>
<rect x="1273" y="270" width="1" height="148" fill="#ff40a0"/>
<circle cx="1273.5" cy="418.5" r="2.5" fill="#ff40a0"/>
<rect x="1242" y="246" width="63" height="25" rx="12.5" fill="#ff40a0"/>
<path d="M208.5 111.5H212.5" stroke="#999" stroke-width="1.2"/><path d="M206.3 111.9L209 109.8V114z" fill="#444"/>
<path d="M1318 584H1322" stroke="#999" stroke-width="1.2"/><path d="M1324.5 584L1321.8 581.9V586.1z" fill="#444"/>
</svg>
<div class="t" style="left:1249.75px;top:250.75px;font-size:14px;color:#000;font-weight:bold;">0</div>
<div class="t" style="left:1259.65px;top:250.75px;font-size:14px;color:#000;font-weight:bold;">0</div>
<div class="t" style="left:1271.35px;top:250.75px;font-size:14px;color:#000;font-weight:bold;">:</div>
<div class="t" style="left:1279.85px;top:250.75px;font-size:14px;color:#000;font-weight:bold;">0</div>
<div class="t" style="left:1289.6px;top:250.75px;font-size:14px;color:#000;font-weight:bold;">2</div>
<div class="t mono" style="left:1552px;top:90.8px;font-size:12px;color:#666;letter-spacing:-0.1px;">660</div>
<div class="t mono" style="left:1552px;top:137.8px;font-size:12px;color:#666;letter-spacing:-0.1px;">650</div>
<div class="t mono" style="left:1552px;top:184.8px;font-size:12px;color:#666;letter-spacing:-0.1px;">640</div>
<div class="t mono" style="left:1552px;top:231.8px;font-size:12px;color:#666;letter-spacing:-0.1px;">630</div>
<div class="t mono" style="left:1552px;top:278.8px;font-size:12px;color:#666;letter-spacing:-0.1px;">620</div>
<div class="t mono" style="left:1552px;top:324.8px;font-size:12px;color:#666;letter-spacing:-0.1px;">610</div>
<div class="t mono" style="left:1552px;top:371.8px;font-size:12px;color:#666;letter-spacing:-0.1px;">600</div>
<div class="t mono" style="left:1552px;top:418.8px;font-size:12px;color:#666;letter-spacing:-0.1px;">590</div>
<div class="t mono" style="left:1552px;top:465.8px;font-size:12px;color:#666;letter-spacing:-0.1px;">580</div>
<div class="t mono" style="left:1552px;top:511.8px;font-size:12px;color:#666;letter-spacing:-0.1px;">570</div>
<div class="t mono" style="left:1552px;top:558.8px;font-size:12px;color:#666;letter-spacing:-0.1px;">560</div>
<div class="t mono" style="left:1554.8999999999999px;top:638.3px;font-size:12px;color:#666;letter-spacing:-0.1px;">6K</div>
<div class="t mono" style="left:1554.8999999999999px;top:672.3px;font-size:12px;color:#666;letter-spacing:-0.1px;">4K</div>
<div class="t mono" style="left:1554.8999999999999px;top:705.3px;font-size:12px;color:#666;letter-spacing:-0.1px;">2K</div>
<div class="t mono" style="left:1559.75px;top:739.8px;font-size:12px;color:#666;letter-spacing:-0.1px;">0</div>
<div class="t mono" style="left:52.5px;top:755.8px;font-size:12px;color:#555;letter-spacing:-0.1px;">Mar 11</div>
<div class="t mono" style="left:172.5px;top:755.8px;font-size:12px;color:#555;letter-spacing:-0.1px;">Mar 12</div>
<div class="t mono" style="left:292.5px;top:755.8px;font-size:12px;color:#555;letter-spacing:-0.1px;">Mar 13</div>
<div class="t mono" style="left:412.5px;top:755.8px;font-size:12px;color:#555;letter-spacing:-0.1px;">Mar 14</div>
<div class="t mono" style="left:532.5px;top:755.8px;font-size:12px;color:#555;letter-spacing:-0.1px;">Mar 15</div>
<div class="t mono" style="left:652.5px;top:755.8px;font-size:12px;color:#555;letter-spacing:-0.1px;">Mar 16</div>
<div class="t mono" style="left:772.5px;top:755.8px;font-size:12px;color:#555;letter-spacing:-0.1px;">Mar 17</div>
<div class="t mono" style="left:892.5px;top:755.8px;font-size:12px;color:#555;letter-spacing:-0.1px;">Mar 18</div>
<div class="t mono" style="left:1012.5px;top:755.8px;font-size:12px;color:#555;letter-spacing:-0.1px;">Mar 19</div>
<div class="t mono" style="left:1132.5px;top:755.8px;font-size:12px;color:#555;letter-spacing:-0.1px;">Mar 20</div>
<div class="t mono" style="left:1252.5px;top:755.8px;font-size:12px;color:#555;letter-spacing:-0.1px;">Mar 21</div>
<div class="t mono" style="left:1372.5px;top:755.8px;font-size:12px;color:#555;letter-spacing:-0.1px;">Mar 22</div>
<div class="t mono" style="left:1492.5px;top:755.8px;font-size:12px;color:#555;letter-spacing:-0.1px;">Mar <span style="color:#ddd">23</span></div>
<div class="t mono" style="left:1551.5px;top:756.95px;font-size:10.5px;color:#555;letter-spacing:-0.1px;letter-spacing:0.3px;">Now</div>
<div class="t mono" style="left:220px;top:105.8px;font-size:12px;color:#333;letter-spacing:-0.1px;">656.95</div>
<div class="t mono" style="left:1290px;top:577.8px;font-size:12px;color:#333;letter-spacing:-0.1px;">556</div>
</body></html>
